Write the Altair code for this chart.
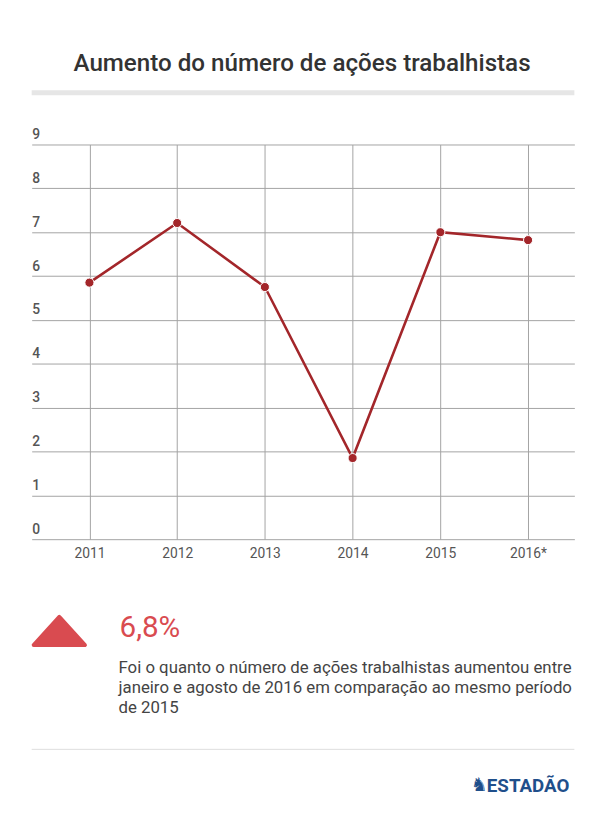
import altair as alt
import pandas as pd

# ---- data ----
years = ["2011", "2012", "2013", "2014", "2015", "2016*"]
values = [5.85, 7.21, 5.75, 1.85, 7.0, 6.82]
y_ticks = [0, 1, 2, 3, 4, 5, 6, 7, 8, 9]

title_text = "Aumento do número de ações trabalhistas"
highlight_value = "6,8%"
body_lines = [
    "Foi o quanto o número de ações trabalhistas aumentou entre",
    "janeiro e agosto de 2016 em comparação ao mesmo período",
    "de 2015",
]
brand = "ESTADÃO"
brand_icon = "♞"

df = pd.DataFrame({"ano": years, "valor": values})
one = pd.DataFrame({"k": [0]})

W, H = 550, 400
LINE_COLOR = "#a3262a"
RED = "#d94b50"
GRID = "#a3a3a3"
BLUE = "#1f4f8b"

x = alt.X(
    "ano:N", sort=years, title=None,
    scale=alt.Scale(type="point", padding=0.593, align=0.555),
    axis=alt.Axis(grid=True, gridColor=GRID, gridWidth=1, ticks=False, domain=False,
                  labelAngle=0, labelPadding=8, labelFontSize=14, labelColor="#555",
                  labelFont="Roboto"),
)
y = alt.Y(
    "valor:Q", title=None,
    scale=alt.Scale(domain=[0, 9], nice=False),
    axis=alt.Axis(values=y_ticks, grid=True, gridColor=GRID, gridWidth=1, ticks=False,
                  tickSize=0, domain=False, labelAlign="left", labelBaseline="bottom",
                  labelPadding=0, labelOffset=-3, labelFontSize=14, labelColor="#555",
                  labelFont="Roboto", labelFontWeight=500, format="d"),
)

base = alt.Chart(df)
line = base.mark_line(color=LINE_COLOR, strokeWidth=2.6).encode(x=x, y=y)
pts = base.mark_circle(size=85, color=LINE_COLOR, opacity=1, stroke="white",
                       strokeWidth=1).encode(x=x, y=y)

title = alt.Chart(one).mark_text(
    text=title_text, font="Roboto", fontSize=24.5, fontWeight=500, color="#333",
    align="center", baseline="alphabetic",
).encode(x=alt.value(274), y=alt.value(-74))

bar = alt.Chart(one).mark_rule(color="#e6e6e6", strokeWidth=5).encode(
    x=alt.value(0), x2=alt.value(W), y=alt.value(-52.5))

tri = alt.Chart(one).mark_point(
    shape="M-1,0.55L0,-0.55L1,0.55Z", filled=True, size=2704, color=RED,
    stroke=RED, strokeWidth=4, strokeJoin="round", opacity=1,
).encode(x=alt.value(28), y=alt.value(493))

big = alt.Chart(one).mark_text(
    text=highlight_value, font="Roboto", fontSize=30, color=RED,
    align="left", baseline="alphabetic",
).encode(x=alt.value(89), y=alt.value(499))

body = alt.Chart(one).mark_text(
    text=body_lines, font="Roboto", fontSize=17, color="#444", lineHeight=20,
    align="left", baseline="alphabetic",
).encode(x=alt.value(88), y=alt.value(536))

sep = alt.Chart(one).mark_rule(color="#dddddd", strokeWidth=1).encode(
    x=alt.value(0), x2=alt.value(W), y=alt.value(613))

logo = alt.Chart(one).mark_text(
    text=brand, font="Roboto", fontSize=19, fontWeight="bold",
    color=BLUE, align="right", baseline="alphabetic",
).encode(x=alt.value(545), y=alt.value(656))

icon = alt.Chart(one).mark_text(
    text=brand_icon, font="DejaVu Sans", fontSize=19, color=BLUE,
    align="right", baseline="alphabetic",
).encode(x=alt.value(462), y=alt.value(655))

chart = alt.layer(line, pts, title, bar, tri, big, body, sep, logo, icon).properties(
    width=W, height=H,
    autosize=alt.AutoSizeParams(type="none"),
    padding={"left": 24, "top": 133, "right": 28, "bottom": 260},
    background="white",
).configure_view(stroke=None)

chart.save("out.html", embed_options={"renderer": "svg", "actions": False})
